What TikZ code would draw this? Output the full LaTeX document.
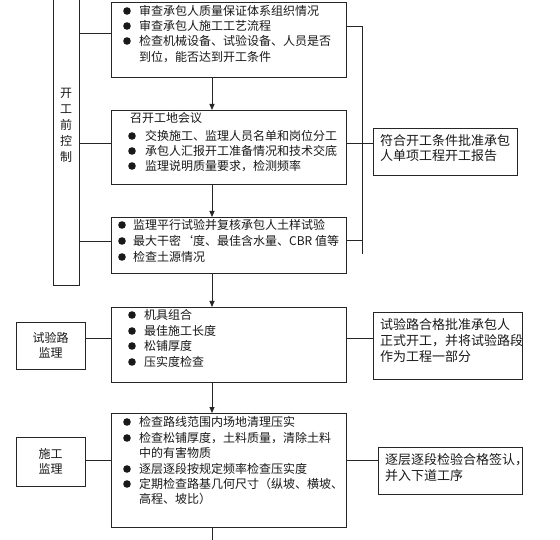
\documentclass[tikz,border=0pt]{standalone}
\usepackage{fontspec}
\newfontfamily\cjk{Noto Sans CJK SC}
\usetikzlibrary{arrows.meta}
\begin{document}
\begin{tikzpicture}[x=1pt,y=-1pt,
  box/.style={draw=black!85, line width=0.8pt, inner sep=0pt, outer sep=0pt, rectangle},
  ln/.style={draw=black!85, line width=0.8pt},
  arr/.style={ln, -{Triangle[length=6pt,width=5pt]}},
  txt/.style={anchor=west, inner sep=0pt, text height=10pt, text depth=1pt, font=\cjk\fontsize{12}{14}\selectfont, text=black!90},
  rtxt/.style={anchor=west, inner sep=0pt, text height=10.5pt, text depth=1pt, font=\cjk\fontsize{13}{15}\selectfont, text=black!90},
  ctxt/.style={anchor=center, inner sep=0pt, text height=10pt, text depth=1pt, font=\cjk\fontsize{12}{14}\selectfont, text=black!90},
  dot/.style={fill=black!90}]
\useasboundingbox (0,0) rectangle (560,540);
\fill[white] (0,0) rectangle (560,540);

% boxes
\node[box, minimum width=26pt, minimum height=292pt] (L) at (66,139) {};
\node[box, minimum width=235pt, minimum height=75pt] (b1) at (228.5,39.5) {};
\node[box, minimum width=235pt, minimum height=74pt] (b2) at (228.5,147) {};
\node[box, minimum width=235pt, minimum height=56pt] (b3) at (228.5,245) {};
\node[box, minimum width=235pt, minimum height=75pt] (b4) at (228.5,344.5) {};
\node[box, minimum width=235pt, minimum height=114pt] (b5) at (228.5,470) {};
\node[box, minimum width=144pt, minimum height=47pt] (R1) at (445,151.5) {};
\node[box, minimum width=149pt, minimum height=67pt] (R2) at (447.5,345.5) {};
\node[box, minimum width=144pt, minimum height=47pt] (R3) at (450,470.5) {};
\node[box, minimum width=69pt, minimum height=47pt] (S1) at (50.5,345.5) {};
\node[box, minimum width=69pt, minimum height=49pt] (S2) at (50.5,461.5) {};

% left tall box labels
\node[ctxt] (l1) at (66,93) {开};
\node[ctxt] (l2) at (66,109) {工};
\node[ctxt] (l3) at (66,125) {前};
\node[ctxt] (l4) at (66,141) {控};
\node[ctxt] (l5) at (66,157) {制};

\node[ctxt] (s1a) at (50.5,338) {试验路};
\node[ctxt] (s1b) at (50.5,353) {监理};
\node[ctxt] (s2a) at (50.5,454) {施工};
\node[ctxt] (s2b) at (50.5,469) {监理};

% box 1
\foreach \y in {11,26,41} \fill[dot] (127,\y) circle (3.8pt);
\node[txt] (t11) at (139,11) {审查承包人质量保证体系组织情况};
\node[txt] (t12) at (139,26) {审查承包人施工工艺流程};
\node[txt] (t13) at (139,41) {检查机械设备、试验设备、人员是否};
\node[txt] (t14) at (139,57) {到位，能否达到开工条件};

% box 2
\node[txt] (t20) at (130,118) {召开工地会议};
\foreach \y in {136,151,166} \fill[dot] (132,\y) circle (3.8pt);
\node[txt] (t21) at (145,136) {交换施工、监理人员名单和岗位分工};
\node[txt] (t22) at (145,151) {承包人汇报开工准备情况和技术交底};
\node[txt] (t23) at (145,166) {监理说明质量要求，检测频率};

% box 3
\foreach \y in {225,241,257} \fill[dot] (122,\y) circle (3.8pt);
\node[txt] (t31) at (133,225) {监理平行试验并复核承包人土样试验};
\node[txt] (t32) at (133,241) {最大干密‘度、最佳含水量、CBR 值等};
\node[txt] (t33) at (133,257) {检查土源情况};

% box 4
\foreach \y in {315,331,346,362} \fill[dot] (132,\y) circle (3.8pt);
\node[txt] (t41) at (144,315) {机具组合};
\node[txt] (t42) at (144,331) {最佳施工长度};
\node[txt] (t43) at (144,346) {松铺厚度};
\node[txt] (t44) at (144,362) {压实度检查};

% box 5
\foreach \y in {422,438,469,484} \fill[dot] (127,\y) circle (3.8pt);
\node[txt] (t51) at (139,422) {检查路线范围内场地清理压实};
\node[txt] (t52) at (139,438) {检查松铺厚度，土料质量，清除土料};
\node[txt] (t53) at (139,453) {中的有害物质};
\node[txt] (t54) at (139,469) {逐层逐段按规定频率检查压实度};
\node[txt] (t55) at (139,484) {定期检查路基几何尺寸（纵坡、横坡、};
\node[txt] (t56) at (139,499) {高程、坡比）};

% right boxes
\node[rtxt] (r11) at (380,141) {符合开工条件批准承包};
\node[rtxt] (r12) at (380,156) {人单项工程开工报告};
\node[rtxt] (r21) at (380,325) {试验路合格批准承包人};
\node[rtxt] (r22) at (380,341) {正式开工，并将试验路段};
\node[rtxt] (r23) at (380,357) {作为工程一部分};
\node[rtxt] (r31) at (385,460) {逐层逐段检验合格签认，};
\node[rtxt] (r32) at (385,476) {并入下道工序};

% connectors from left tall box
\draw[ln] (L.east |- 0,33) -- (b1.west |- 0,33);
\draw[ln] (L.east |- 0,143) -- (b2.west |- 0,143);
\draw[ln] (L.east |- 0,241) -- (b3.west |- 0,241);

% right bus
\coordinate (bt) at (362,26);
\coordinate (bb) at (362,254);
\draw[ln] (b1.east |- bt) -- (bt) -- (bb);
\draw[ln] (b2.east |- 0,143) -- (R1.west |- 0,143);
\draw[ln] (b3.east |- 0,240) -- (bb |- 0,240);

% vertical arrows
\draw[arr] (b1.south -| 212,0) -- (b2.north -| 212,0);
\draw[arr] (b2.south -| 212,0) -- (b3.north -| 212,0);
\draw[arr] (b3.south -| 212,0) -- (b4.north -| 212,0);
\draw[arr] (b4.south -| 212,0) -- (b5.north -| 212,0);
\coordinate (bend) at (212,545);
\draw[ln] (b5.south -| bend) -- (bend);

% side connectors
\draw[ln] (S1.east |- 0,338) -- (b4.west |- 0,338);
\draw[ln] (b4.east |- 0,338) -- (R2.west |- 0,338);
\draw[ln] (S2.east |- 0,460) -- (b5.west |- 0,460);
\draw[ln] (b5.east |- 0,460) -- (R3.west |- 0,460);
\end{tikzpicture}
\end{document}
